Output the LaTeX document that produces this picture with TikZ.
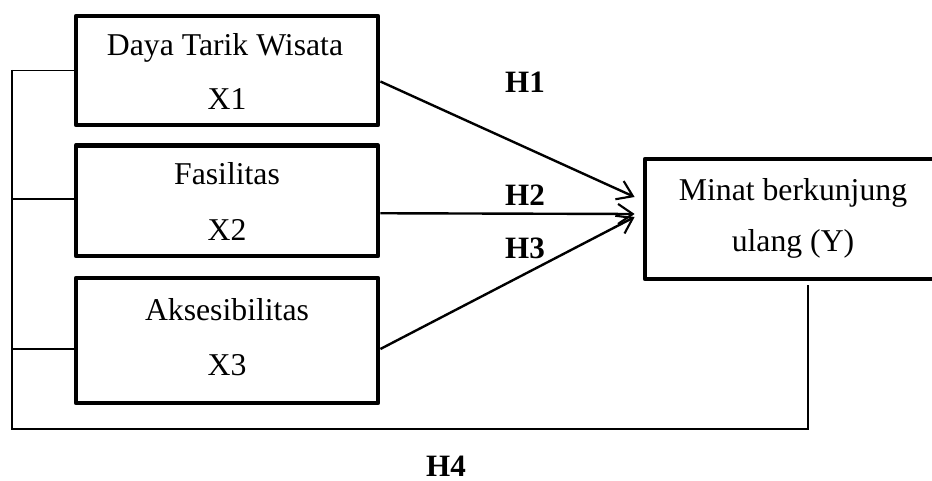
\documentclass[tikz,border=0pt]{standalone}
\usepackage{fontspec}
\setmainfont{Liberation Serif}
\usetikzlibrary{arrows.meta,calc}
\tikzset{
  varbox/.style={draw=black, line width=3.6pt, line join=round, rectangle, inner sep=0pt},
  thinline/.style={line width=1.2pt},
  arrline/.style={line width=1.8pt, -{Straight Barb[length=11pt,width=15pt,line width=1.6pt]}},
  boxtext/.style={anchor=base, inner sep=0pt, font=\fontsize{23.8}{28}\selectfont},
  hyp/.style={anchor=base, inner sep=0pt, font=\fontsize{23.3}{28}\selectfont\bfseries},
}
\begin{document}
\begin{tikzpicture}[x=0.75pt,y=-0.75pt]
\useasboundingbox (0,0) rectangle (932,481);
% boxes
\node[varbox, minimum width=226.5pt, minimum height=81.75pt] (b1) at (227,70.5) {};
\node[varbox, minimum width=226.5pt, minimum height=82.9pt] (b2) at (227,200.75) {};
\node[varbox, minimum width=226.5pt, minimum height=93.75pt] (b3) at (227,340.5) {};
\node[varbox, minimum width=222pt, minimum height=90pt] (y) at (793,219) {};
% box texts
\node[boxtext] (t1a) at (225,56) {Daya Tarik Wisata};
\node[boxtext] (t1b) at (227,110) {X1};
\node[boxtext] (t2a) at (227,185) {Fasilitas};
\node[boxtext] (t2b) at (227,240) {X2};
\node[boxtext] (t3a) at (227,320) {Aksesibilitas};
\node[boxtext] (t3b) at (227,375) {X3};
\node[boxtext] (tya) at (793,200) {Minat berkunjung};
\node[boxtext] (tyb) at (793,252) {ulang (Y)};
% hypothesis labels
\node[hyp] (h1) at (525,93) {H1};
\node[hyp] (h2) at (525,205) {H2};
\node[hyp] (h3) at (525,258) {H3};
\node[hyp] (h4) at (446,476) {H4};
% arrows
\draw[arrline] ($(b1.east)+(0,11)$) -- ($(y.west)+(-8,-22)$);
\draw[arrline] ($(b2.east)+(0,12.5)$) -- ($(y.west)+(-8,-5)$);
\draw[arrline] ($(b3.east)+(0,8.5)$) -- ($(y.west)+(-8,-2)$);
% H4 bus
\coordinate (ltop) at (12,70);
\coordinate (lbot) at (12,429);
\coordinate (rbot) at (808,429);
\coordinate (ya) at ($(y.south)+(15,4)$);
\draw[thinline] (ltop) -- (lbot) -- (rbot) -- (rbot |- ya);
\draw[thinline] (b1.west) -- (b1.west -| ltop);
\draw[thinline] ($(b2.west)+(0,-1.5)$) -- ($(b2.west -| ltop)+(0,-1.5)$);
\draw[thinline] ($(b3.west)+(0,8.5)$) -- ($(b3.west -| ltop)+(0,8.5)$);
\end{tikzpicture}
\end{document}
